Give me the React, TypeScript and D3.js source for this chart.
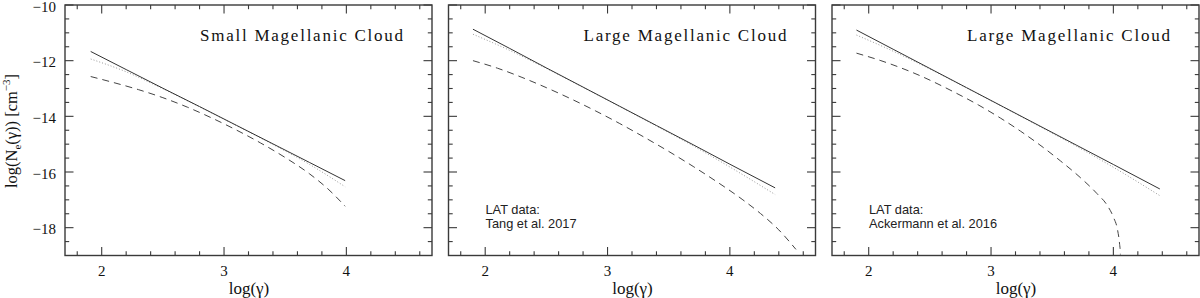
import React from 'react';
import * as d3 from 'd3';

// ---------- data ----------
const panelTitles = ['Small Magellanic Cloud', 'Large Magellanic Cloud', 'Large Magellanic Cloud'];
const panelNotes: string[][] = [[], ['LAT data:', 'Tang et al. 2017'], ['LAT data:', 'Ackermann et al. 2016']];

const xMajorTicks = [2, 3, 4];
const xTickLabels = ['2', '3', '4'];
const yMajorTicks = [-10, -12, -14, -16, -18];
const yTickLabels = ['\u221210', '\u221212', '\u221214', '\u221216', '\u221218'];
const xMinorTicks = [1.8, 2.2, 2.4, 2.6, 2.8, 3.2, 3.4, 3.6, 3.8, 4.2, 4.4, 4.6];
const yMinorTicks = [-10.5, -11, -11.5, -12.5, -13, -13.5, -14.5, -15, -15.5, -16.5, -17, -17.5, -18.5];

// SMC
const smcX = [1.91, 2.2, 2.5, 2.8, 3.1, 3.4, 3.7, 3.99];
const smcSolid = [-11.67, -12.32, -12.99, -13.65, -14.32, -14.99, -15.66, -16.31];
const smcDotted = [-11.94, -12.4, -13.01, -13.66, -14.33, -15.01, -15.73, -16.53];
const smcDashedX = [1.91, 2.1, 2.3, 2.5, 2.7, 2.9, 3.1, 3.3, 3.5, 3.7, 3.85, 3.99];
const smcDashed = [-12.57, -12.79, -13.04, -13.33, -13.67, -14.06, -14.49, -14.96, -15.48, -16.07, -16.61, -17.23];

// LMC (Tang et al. 2017)
const lmcTX = [1.9, 2.2, 2.5, 2.8, 3.1, 3.4, 3.7, 4.0, 4.37];
const lmcTSolid = [-10.87, -11.56, -12.26, -12.95, -13.64, -14.33, -15.02, -15.72, -16.57];
const lmcTDotted = [-11.05, -11.63, -12.28, -12.96, -13.65, -14.35, -15.06, -15.82, -16.81];
const lmcTDashedX = [1.9, 2.1, 2.3, 2.5, 2.7, 2.9, 3.1, 3.3, 3.5, 3.7, 3.9, 4.1, 4.25, 4.4, 4.54];
const lmcTDashed = [-12.0, -12.27, -12.6, -12.97, -13.37, -13.8, -14.26, -14.75, -15.26, -15.8, -16.37, -16.98, -17.49, -18.08, -18.78];

// LMC (Ackermann et al. 2016)
const lmcAX = [1.9, 2.2, 2.5, 2.8, 3.1, 3.4, 3.7, 4.0, 4.38];
const lmcASolid = [-10.9, -11.59, -12.28, -12.97, -13.66, -14.35, -15.04, -15.73, -16.61];
const lmcADotted = [-11.08, -11.66, -12.3, -12.98, -13.67, -14.37, -15.08, -15.83, -16.85];
const lmcADashedX = [1.9, 2.1, 2.42, 2.69, 2.9, 3.076, 3.24, 3.4, 3.567, 3.73, 3.867, 3.95, 4.0, 4.035, 4.05, 4.058, 4.06];
const lmcADashed = [-11.73, -12.0, -12.54, -13.11, -13.6, -14.06, -14.53, -15.03, -15.6, -16.2, -16.78, -17.2, -17.62, -18.1, -18.55, -19.0, -19.3];

const panelSeries = [
  { x: smcX, solid: smcSolid, dotted: smcDotted, dx: smcDashedX, dashed: smcDashed },
  { x: lmcTX, solid: lmcTSolid, dotted: lmcTDotted, dx: lmcTDashedX, dashed: lmcTDashed },
  { x: lmcAX, solid: lmcASolid, dotted: lmcADotted, dx: lmcADashedX, dashed: lmcADashed },
];

// ---------- layout ----------
const W = 1200;
const H = 298;
const panelLefts = [65, 448.5, 832];
const panelW = 367;
const top = 5;
const bottom = 255.5;
const serif = '"Liberation Serif", "Times New Roman", serif';
const sans = '"Liberation Sans", Arial, Helvetica, sans-serif';
const frameColor = '#3a3a3a';

function Panel({ idx }: { idx: number }) {
  const left = panelLefts[idx];
  const x = d3.scaleLinear().domain([1.7, 4.7]).range([left, left + panelW]);
  const y = d3.scaleLinear().domain([-19, -10]).range([bottom, top]);
  const s = panelSeries[idx];
  const line = d3
    .line<[number, number]>()
    .x((d) => x(d[0]))
    .y((d) => y(d[1]))
    .curve(d3.curveMonotoneX);
  const solidPts = s.x.map((v, i) => [v, s.solid[i]] as [number, number]);
  const dotPts = s.x.map((v, i) => [v, s.dotted[i]] as [number, number]);
  const dashPts = s.dx.map((v, i) => [v, s.dashed[i]] as [number, number]);
  const right = left + panelW;
  const maj = 8.5;
  const min = 4.2;
  const tickStyle = { stroke: frameColor, strokeWidth: 1.1 };
  const clipId = `clip${idx}`;
  return (
    <g>
      <defs>
        <clipPath id={clipId}>
          <rect x={left} y={top} width={panelW} height={bottom - top - 1} />
        </clipPath>
      </defs>
      <g clipPath={`url(#${clipId})`} fill="none">
        <path d={line(dashPts) || ''} stroke="#444" strokeWidth={1} strokeDasharray="7,5" />
        <path d={line(dotPts) || ''} stroke="#999" strokeWidth={1} strokeDasharray="1,2" />
        <path d={line(solidPts) || ''} stroke="#333" strokeWidth={1} />
      </g>
      {xMajorTicks.map((t) => (
        <g key={'xM' + t}>
          <line x1={x(t)} x2={x(t)} y1={bottom} y2={bottom - maj} {...tickStyle} />
          <line x1={x(t)} x2={x(t)} y1={top} y2={top + maj} {...tickStyle} />
        </g>
      ))}
      {xMinorTicks.map((t) => (
        <g key={'xm' + t}>
          <line x1={x(t)} x2={x(t)} y1={bottom} y2={bottom - min} {...tickStyle} />
          <line x1={x(t)} x2={x(t)} y1={top} y2={top + min} {...tickStyle} />
        </g>
      ))}
      {yMajorTicks.map((t) => (
        <g key={'yM' + t}>
          <line x1={left} x2={left + maj} y1={y(t)} y2={y(t)} {...tickStyle} />
          <line x1={right} x2={right - maj} y1={y(t)} y2={y(t)} {...tickStyle} />
        </g>
      ))}
      {yMinorTicks.map((t) => (
        <g key={'ym' + t}>
          <line x1={left} x2={left + min} y1={y(t)} y2={y(t)} {...tickStyle} />
          <line x1={right} x2={right - min} y1={y(t)} y2={y(t)} {...tickStyle} />
        </g>
      ))}
      <rect x={left} y={top} width={panelW} height={bottom - top} fill="none" stroke={frameColor} strokeWidth={1.4} />
      {xMajorTicks.map((t, i) => (
        <text key={'xl' + t} x={x(t)} y={bottom + 20} textAnchor="middle" fontFamily={serif} fontSize={15} fill="#111">
          {xTickLabels[i]}
        </text>
      ))}
      {idx === 0 &&
        yMajorTicks.map((t, i) => (
          <text key={'yl' + t} x={left - 9} y={y(t) + 6.7} textAnchor="end" fontFamily={serif} fontSize={15} fill="#111">
            {yTickLabels[i]}
          </text>
        ))}
      <text
        x={(left + right) / 2 + 0.5}
        y={bottom + 38}
        textAnchor="middle"
        fontFamily={serif}
        fontSize={17}
        fill="#111"
      >
        log(γ)
      </text>
      <text
        x={right - 29}
        y={41}
        textAnchor="end"
        fontFamily={serif}
        fontSize={17}
        fill="#111"
        textLength={203}
        lengthAdjust="spacing"
      >
        {panelTitles[idx]}
      </text>
      {panelNotes[idx].map((n, i) => (
        <text key={'n' + i} x={left + 37} y={214 + i * 14} fontFamily={sans} fontSize={12.8} fill="#222">
          {n}
        </text>
      ))}
    </g>
  );
}

export default function App() {
  return (
    <svg
      width={W}
      height={H}
      viewBox={`0 0 ${W} ${H}`}
      style={{ position: 'absolute', left: 0, top: 0, background: '#fff' }}
    >
      <rect x={0} y={0} width={W} height={H} fill="#fff" />
      {[0, 1, 2].map((i) => (
        <Panel key={i} idx={i} />
      ))}
      <text
        transform="translate(16.5,131) rotate(-90)"
        textAnchor="middle"
        fontFamily={serif}
        fontSize={16.5}
        fill="#111"
      >
        log(N<tspan fontSize={11} dy={4}>e</tspan>
        <tspan dy={-4}>(γ)) [cm</tspan>
        <tspan fontSize={11} dy={-7}>−3</tspan>
        <tspan dy={7}>]</tspan>
      </text>
    </svg>
  );
}
